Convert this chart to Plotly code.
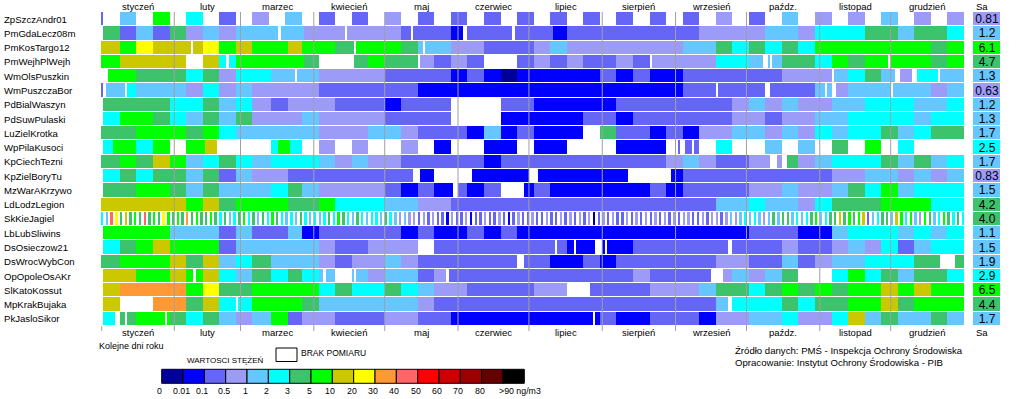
import numpy as np
import plotly.graph_objects as go

# ---------------- data ----------------
stations = ["ZpSzczAndr01", "PmGdaLecz08m", "PmKosTargo12", "PmWejhPlWejh", "WmOlsPuszkin",
            "WmPuszczaBor", "PdBialWaszyn", "PdSuwPulaski", "LuZielKrotka", "WpPilaKusoci",
            "KpCiechTezni", "KpZielBoryTu", "MzWarAKrzywo", "LdLodzLegion", "SkKieJagiel",
            "LbLubSliwins", "DsOsieczow21", "DsWrocWybCon", "OpOpoleOsAKr", "SlKatoKossut",
            "MpKrakBujaka", "PkJasloSikor"]
sa_values = [0.81, 1.2, 6.1, 4.7, 1.3, 0.63, 1.2, 1.3, 1.7, 2.5, 1.7, 0.83, 1.5, 4.2, 4.0,
             1.1, 1.5, 1.9, 2.9, 6.5, 4.4, 1.7]
months = ["styczeń", "luty", "marzec", "kwiecień", "maj", "czerwiec", "lipiec", "sierpień",
          "wrzesień", "paźdz.", "listopad", "grudzień"]
month_days = [31, 28, 31, 30, 31, 30, 31, 31, 30, 31, 30, 31]
class_edges = [0, 0.01, 0.1, 0.5, 1, 2, 3, 5, 10, 20, 30, 40, 50, 60, 70, 80, 90]
scale_labels = ["0", "0.01", "0.1", "0.5", "1", "2", "3", "5", "10", "20", "30", "40", "50",
                "60", "70", "80"]
scale_colors = ["#000099", "#0000FF", "#6666F6", "#9C9CF8", "#66C6FF", "#00FFFF", "#3CC36C",
                "#00FF00", "#CCC800", "#FFFF00", "#FF9933", "#FF6666", "#FF0000", "#CC0000",
                "#990000", "#660000", "#000000"]

# daily concentration class per station, run-length coded: <class><days>, "." = no data
runs = {
    "ZpSzczAndr01": "21 .7 47 .7 77 .7 57 .7 27 .7 37 .7 47 .7 27 .7 27 .7 37 .7 27 .7 27 .7 27 .7 27 .7 27 .7 27 .7 27 .7 27 .7 27 .7 37 .7 27 .7 47 .7 37 .7 37 .7 47 .7 37 .7 37",
    "PmGdaLecz08m": ".1 67 27 47 27 67 37 47 37 418 .1 410 317 .1 323 24 .1 216 15 .2 219 .1 216 16 256 328 414 37 521 614 47 614 57",
    "PmKosTargo12": "88 77 97 816 .1 84 97 77 87 715 86 714 68 .1 719 67 42 .1 411 314 221 37 47 349 414 67 57 67 57 67 57 749 67 77",
    "PmWejhPlWejh": "78 828 .7 87 53 .1 53 729 66 .15 66 77 614 .1 36 27 37 27 .14 27 37 27 37 214 37 27 .1 327 514 46 .2 41 .1 44 614 57 77 67 710 .1 717 67 77",
    "WmOlsPuszkin": ".3 712 621 57 67 37 515 410 .1 49 328 228 17 27 17 07 135 27 17 27 114 242 321 .1 46 57 67 46 .2 35 .2 59 .1 410",
    "WmPuszczaBor": "21 .1 48 .1 54 421 37 57 37 47 328 242 1112 214 .1 220 .2 219 44 .1 42 .2 35 418 .1 416 37 47",
    "PdBialWaszyn": ".1 628 514 67 47 57 38 27 320 221 17 221 .21 214 135 249 37 47 37 47 314 414 521 414 57",
    "PdSuwPulaski": ".1 57 714 67 57 47 67 47 67 321 47 328 228 .21 135 214 17 242 314 27 314 414 528 47 514",
    "LuZielKrotka": "615 721 67 77 57 435 321 414 37 221 17 47 17 27 121 .7 67 214 17 27 17 314 414 37 47 37 57 47 514 67 47 57 614",
    "WpPilaKusoci": ".1 54 710 57 77 .7 78 85 .23 53 75 55 .7 37 .7 37 .14 37 .7 17 .14 114 .7 114 .21 121 .5 21 .2 23 .1 22 .7 57 .14 47 .7 47 .7 67 .7 77 .7 57 .21",
    "KpCiechTezni": "68 77 67 87 77 47 57 67 57 48 520 47 37 47 314 235 17 270 37 47 37 214 39 .3 32 .2 65 37 47 521 67 47 67 47 57",
    "KpZielBoryTu": ".1 57 67 57 614 47 67 27 47 315 253 .3 16 .16 124 .4 138 .18 15 263 314 414 37 47 37 47",
    "MzWarAKrzywo": ".1 614 714 67 47 67 422 57 66 47 328 27 17 27 18 .2 24 17 27 .10 14 27 142 27 17 228 314 47 314 47 67 57 77 47 521",
    "LdLodzLegion": "836 77 87 67 722 613 77 521 414 314 2112 414 57 414 37 57 621 721 514",
    "LbLubSliwins": ".1 728 421 27 47 215 46 17 235 17 27 114 27 17 27 198 221 114 47 521 47 57 47 57",
    "DsOsieczow21": ".1 57 67 77 87 721 27 435 37 214 321 .7 251 .1 24 13 .1 18 .3 11 .1 111 240 .2 221 37 214 37 47 37 57 27 47 514",
    "DsWrocWybCon": "68 721 87 67 87 47 57 68 420 37 27 314 47 37 242 .3 211 114 27 17 242 314 214 47 27 37 414 521 611 .6 64",
    "OpOpoleOsAKr": ".1 814 714 87 73 .1 73 87 57 47 68 57 66 57 42 .1 44 .7 41 .1 45 37 414 27 35 .1 278 37 226 .5 34 47 37 47 67 .14 57 77 57 67 47 614 57",
    "SlKatoKossut": ".1 87 a28 77 97 614 728 57 67 514 67 57 47 314 228 314 .10 225 321 47 614 57 67 77 67 77 67 714 87 77 87 714",
    "MpKrakBujaka": ".1 87 .14 a14 67 87 57 .1 56 721 67 442 37 2119 45 .2 521 67 57 614 714 87 67 721",
    "PkJasloSikor": ".1 55 .2 62 .1 64 712 .1 71 67 57 67 47 37 48 77 26 314 221 314 214 160 .1 12 27 114 221 17 314 414 57 314 57 87 47 67 414 67 47",
}
# SkKieJagiel: measurement every second day, one class per measurement
skkie_classes = ("54b968676b67697676a67667" + "65645675646576545465454" +
                 "565765465455465434332323" + "2213223122322321232232" +
                 "23223232323023232232323" + "23232323322323323434545" +
                 "4346466454567456686767" + "8245664875743764576565")

CODES = "0123456789abcdefg"
NDAYS = 365


def expand_runs(s):
    out = []
    for tok in s.split():
        c, n = tok[0], int(tok[1:])
        out += [None if c == "." else CODES.index(c)] * n
    return (out + [None] * NDAYS)[:NDAYS]


z = []
for st in stations:
    if st == "SkKieJagiel":
        row = [None] * NDAYS
        for i, c in enumerate(skkie_classes):
            if 2 * i < NDAYS:
                row[2 * i] = CODES.index(c)
        z.append(row)
    else:
        z.append(expand_runs(runs[st]))

sa_class = [int(np.searchsorted(class_edges, v, side="right") - 1) for v in sa_values]
sa_text = [f"{v:.2f}" if v < 1 else f"{v:.1f}" for v in sa_values]

# ---------------- figure ----------------
W, H = 1024, 399


def px(x):
    return x / W


def py(y):
    return 1 - y / H


ncol = len(scale_colors)
cscale = []
for i, c in enumerate(scale_colors):
    cscale += [[i / ncol, c], [(i + 1) / ncol, c]]

FONT = "Arial, Liberation Sans, sans-serif"
nrows = len(stations)

fig = go.Figure()
fig.add_trace(go.Heatmap(
    z=z, x=np.arange(NDAYS) + 0.5, y=list(range(nrows)),
    colorscale=cscale, zmin=-0.5, zmax=ncol - 0.5, showscale=False,
    ygap=1, hoverinfo="skip", xaxis="x", yaxis="y"))
fig.add_trace(go.Heatmap(
    z=[[c] for c in sa_class], x=[0], y=list(range(nrows)),
    text=[[t] for t in sa_text], texttemplate="%{text}",
    textfont=dict(size=12, color="black", family=FONT),
    colorscale=cscale, zmin=-0.5, zmax=ncol - 0.5, showscale=False,
    ygap=1, hoverinfo="skip", xaxis="x2", yaxis="y"))

y_top, y_bot = 12, 326
fig.update_layout(
    width=W, height=H, autosize=False,
    margin=dict(l=0, r=0, t=0, b=0),
    paper_bgcolor="white", plot_bgcolor="white",
    font=dict(family=FONT, color="black"),
    xaxis=dict(domain=[px(101), px(964)], range=[0, NDAYS], visible=False, fixedrange=True),
    xaxis2=dict(domain=[px(973), px(1000)], range=[-0.5, 0.5], visible=False, anchor="y"),
    yaxis=dict(domain=[py(y_bot), py(y_top)], range=[nrows - 0.5, -0.5], visible=False),
    showlegend=False,
)

shapes = []
annotations = []


def note(text, x, y, size, xref="paper", yref="paper", xanchor="left", **kw):
    annotations.append(dict(text=text, x=x, y=y, xref=xref, yref=yref, xanchor=xanchor,
                            yanchor="middle", showarrow=False, font=dict(size=size), **kw))


# month dividers and labels
bounds = np.cumsum([0] + month_days)
for b in bounds[1:-1]:
    shapes.append(dict(type="line", xref="x", yref="paper", x0=b, x1=b,
                       y0=py(y_top), y1=py(331), line=dict(color="#A0A0A0", width=1)))
shapes.append(dict(type="line", xref="x", yref="paper", x0=0.3, x1=0.3,
                   y0=py(326), y1=py(331), line=dict(color="#A0A0A0", width=1)))
for i, m in enumerate(months):
    cx = (bounds[i] + bounds[i + 1]) / 2
    for yy in (6, 332):
        note(m, cx, py(yy), 9.5, xref="x", xanchor="center")
for yy in (6, 332):
    note("Sa", px(974), py(yy), 9.5)

# station labels
for i, st in enumerate(stations):
    note(st, px(1.5), i, 9.6, yref="y")

# bottom texts
note("Kolejne dni roku", px(97), py(346), 9)
note("WARTOSCI STĘŻEŃ", px(185), py(360), 8)
note("BRAK POMIARU", px(299), py(353), 8.5)
shapes.append(dict(type="rect", xref="paper", yref="paper", x0=px(276), x1=px(297),
                   y0=py(361.5), y1=py(348), line=dict(color="black", width=1),
                   fillcolor="white"))
note("Źródło danych: PMŚ - Inspekcja Ochrony Środowiska<br>"
     "Opracowanie: Instytut Ochrony Środowiska - PIB", px(733), py(356), 9.6, align="left")

# colour scale legend
lx0, lw = 161.7, 21.33
for k, c in enumerate(scale_colors):
    shapes.append(dict(type="rect", xref="paper", yref="paper",
                       x0=px(lx0 + k * lw), x1=px(lx0 + (k + 1) * lw),
                       y0=py(383.3), y1=py(369.3), fillcolor=c,
                       line=dict(color="black", width=1)))
for k, lab in enumerate(scale_labels):
    note(lab, px(lx0 + k * lw - 2), py(391), 8.8, xanchor="center")
note(">90 ng/m3", px(lx0 + 16 * lw - 6), py(391), 8.8)

fig.update_layout(shapes=shapes, annotations=annotations)
fig.write_html("out.html", config={"displayModeBar": False},
               post_script="document.body.style.margin='0';document.body.style.padding='0';")
